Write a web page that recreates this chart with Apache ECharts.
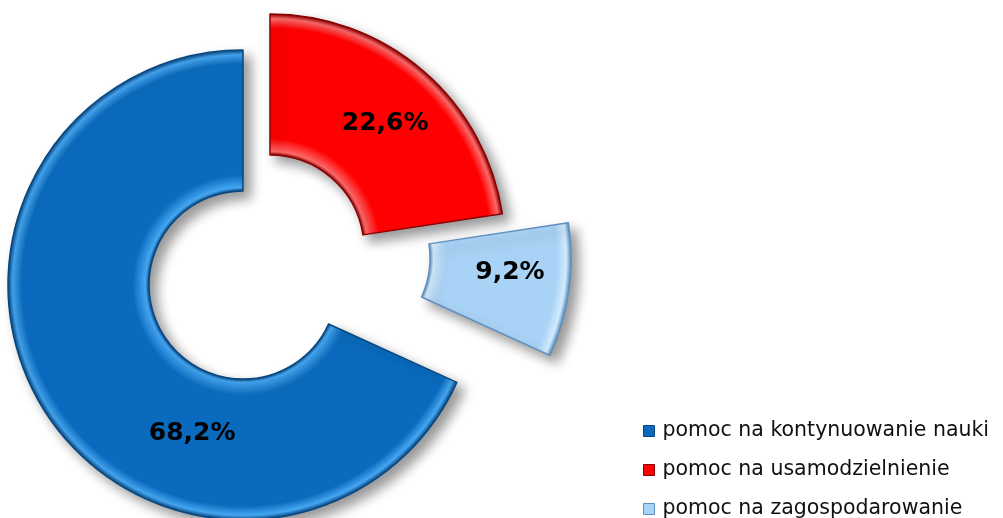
<!DOCTYPE html>
<html>
<head>
<meta charset="utf-8">
<script src="https://cdn.jsdelivr.net/npm/echarts@6/dist/echarts.min.js"></script>
<style>
  html, body { margin: 0; padding: 0; background: #fff; }
  #main { width: 1003px; height: 518px; }
</style>
</head>
<body>
<div id="main"></div>
<script>
// dane wykresu
var names = ['pomoc na kontynuowanie nauki', 'pomoc na usamodzielnienie', 'pomoc na zagospodarowanie'];
var values = [68.2, 22.6, 9.2];
var mainColors = ['#0a6bbe', '#ff0000', '#a9d3f6'];
var lightColors = ['#45a6f2', '#ff6a6a', '#d2ebfd'];
var darkColors = ['#08477f', '#8a0000', '#5f8fbd'];
// przesuniete srodki wycinkow (wysuniecie jak w Excelu)
var centers = [[243, 285], [270, 249], [336, 258]];
var labelShift = [[90, 58], [6, 2], [8, -9]];

var myChart = echarts.init(document.getElementById('main'));

var total = values.reduce(function (a, b) { return a + b; }, 0);
var startAngle = 90 + values[0] / total * 360;
var rIn = 94, rOut = 235;

function ringGradient(i) {
    var f = rIn / rOut;
    return {
        type: 'radial', x: centers[i][0], y: centers[i][1], r: rOut, global: true,
        colorStops: [
            { offset: f, color: darkColors[i] },
            { offset: f + 0.015, color: lightColors[i] },
            { offset: f + 0.07, color: mainColors[i] },
            { offset: 0.94, color: mainColors[i] },
            { offset: 0.98, color: lightColors[i] },
            { offset: 1, color: darkColors[i] }
        ]
    };
}

var series = [];
names.forEach(function (n, i) {
    var data = names.map(function (name, j) {
        var item = { name: name, value: values[j] };
        if (j !== i) {
            item.itemStyle = { opacity: 0 };
            item.label = { show: false };
        }
        return item;
    });
    series.push({
        type: 'pie',
        center: centers[i],
        radius: [rIn, rOut],
        startAngle: startAngle,
        clockwise: true,
        silent: true,
        animation: false,
        emphasis: { disabled: true },
        itemStyle: {
            color: ringGradient(i),
            borderColor: darkColors[i],
            borderWidth: 1.5,
            shadowColor: 'rgba(0,0,0,0.4)',
            shadowBlur: 12,
            shadowOffsetX: 7,
            shadowOffsetY: 7
        },
        label: {
            show: true,
            position: 'inside',
            color: '#000',
            fontFamily: 'DejaVu Sans',
            fontWeight: 'bold',
            fontSize: 25,
            formatter: function (p) {
                return p.value.toFixed(1).replace('.', ',') + '%';
            }
        },
        labelLine: { show: false },
        labelLayout: { dx: labelShift[i][0], dy: labelShift[i][1] },
        data: data
    });
});

var option = {
    backgroundColor: '#fff',
    legend: {
        orient: 'vertical',
        left: 638,
        top: 414,
        height: 140,
        icon: 'rect',
        itemWidth: 11,
        itemHeight: 11,
        itemGap: 15,
        selectedMode: false,
        textStyle: {
            fontFamily: 'DejaVu Sans',
            fontSize: 20.5,
            lineHeight: 24,
            color: '#111',
            padding: [0, 0, 0, 3]
        },
        data: names.map(function (n, i) {
            return {
                name: n,
                itemStyle: { color: mainColors[i], borderColor: darkColors[i], borderWidth: 1, opacity: 1 }
            };
        })
    },
    series: series
};

myChart.setOption(option);
</script>
</body>
</html>
